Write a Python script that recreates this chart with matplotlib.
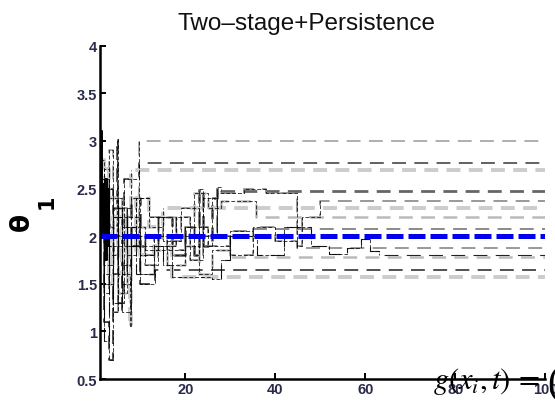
import matplotlib
matplotlib.use("Agg")
import matplotlib.pyplot as plt

# ---------------- data ----------------
title = "Two\u2013stage+Persistence"
x_ticks = [20, 40, 60, 80, 100]
y_ticks = [0.5, 1, 1.5, 2, 2.5, 3, 3.5, 4]
y_tick_labels = ["0.5", "1", "1.5", "2", "2.5", "3", "3.5", "4"]
true_value = 2.0

# piecewise (step) traces of the estimated parameter
s01_x = [1, 2, 3, 4, 5, 6, 8, 9.6, 100]
s01_y = [2.6, 2.2, 2.9, 1.8, 2.4, 2.1, 1.9, 3.0, 3.0]
s02_x = [1, 2, 3, 4, 4.7, 5, 6.3, 9.6, 100]
s02_y = [2.3, 1.5, 2.5, 2.0, 3.02, 1.3, 2.6, 2.77, 2.77]
s03_x = [1, 2, 3, 5, 7, 8, 100]
s03_y = [2.5, 2.0, 2.4, 1.9, 2.3, 2.69, 2.69]
s04_x = [1, 2, 3, 4, 6, 8, 10, 14, 17, 20, 22, 23, 24, 26, 27, 28, 100]
s04_y = [2.6, 2.2, 1.8, 2.3, 2.0, 2.4, 1.9, 2.2, 1.8, 2.1, 1.8, 2.5, 1.9, 2.4, 2.52, 2.47, 2.47]
s05_x = [1, 2, 3, 4, 5, 7, 9, 12, 15, 19, 23, 27, 33, 38, 44.7, 46, 50, 100]
s05_y = [2.4, 1.6, 2.1, 1.2, 2.3, 1.9, 2.4, 2.2, 1.95, 2.3, 2.0, 2.45, 2.5, 2.45, 1.9, 2.2, 2.37, 2.37]
s06_x = [1, 2, 3, 5, 7, 9, 12, 15, 100]
s06_y = [2.3, 2.7, 1.9, 2.2, 1.8, 2.4, 2.1, 2.30, 2.30]
s07_x = [1, 2, 4, 6, 8, 11, 14, 18, 22, 25, 28, 35.6, 100]
s07_y = [2.5, 1.9, 2.3, 1.7, 2.1, 1.85, 2.2, 2.0, 2.45, 2.3, 2.37, 2.2, 2.2]
s08_x = [1, 2, 3, 5, 7, 10, 13, 16, 20, 25, 30, 35, 100]
s08_y = [2.2, 1.4, 2.0, 1.6, 2.2, 1.8, 2.0, 1.85, 2.1, 1.9, 2.05, 2.07, 2.07]
s09_x = [1, 2, 3, 4, 6, 8, 11, 14, 18, 21, 24, 27, 30, 35, 40, 44.7, 100]
s09_y = [2.0, 2.6, 1.7, 2.2, 1.5, 2.0, 1.7, 1.9, 2.2, 1.75, 2.4, 2.0, 1.8, 2.1, 1.95, 1.88, 1.88]
s10_x = [1, 2, 3, 5, 7, 10, 13, 16, 20, 23, 26, 30, 100]
s10_y = [2.3, 1.7, 2.0, 1.4, 1.9, 1.6, 1.85, 1.7, 1.9, 1.6, 1.85, 1.78, 1.78]
s11_x = [1, 2, 3, 4, 5, 6, 8, 10, 13.3, 100]
s11_y = [2.5, 1.1, 0.7, 1.6, 2.0, 1.2, 1.9, 1.5, 1.64, 1.64]
s12_x = [1, 2, 3, 4, 6, 7.7, 8, 10, 13, 17, 100]
s12_y = [2.8, 2.0, 1.5, 2.2, 1.6, 1.05, 2.0, 1.8, 1.9, 1.57, 1.57]
s13_x = [1, 2, 3, 4, 6, 9, 13, 15, 17, 26, 28, 30, 36, 42, 48, 52, 56, 59, 61, 63, 100]
s13_y = [2.4, 0.9, 1.9, 1.3, 2.1, 1.6, 1.9, 1.7, 1.57, 1.55, 1.75, 2.0, 1.8, 2.1, 1.9, 1.81, 1.88, 1.97, 1.84, 1.8, 1.8]
# very first iterations (dense start near the y axis)
s14_x = [1, 1.3, 1.6, 1.9, 2.2, 2.5, 2.8, 3.1]
s14_y = [2.6, 2.0, 2.55, 2.1, 2.6, 1.9, 2.4, 2.3]
s15_x = [1, 1.4, 1.8, 2.2, 2.6, 3.0]
s15_y = [3.1, 2.2, 2.45, 1.75, 2.5, 2.0]

series = [
    (s13_x, s13_y, "#222222", 0.8),
    (s01_x, s01_y, "#999999", 1.1),
    (s02_x, s02_y, "#555555", 1.3),
    (s03_x, s03_y, "#cccccc", 2.8),
    (s04_x, s04_y, "#666666", 2.0),
    (s05_x, s05_y, "#888888", 1.2),
    (s06_x, s06_y, "#cccccc", 2.8),
    (s07_x, s07_y, "#bbbbbb", 1.8),
    (s08_x, s08_y, "#777777", 1.2),
    (s09_x, s09_y, "#888888", 1.2),
    (s10_x, s10_y, "#bbbbbb", 1.8),
    (s11_x, s11_y, "#333333", 1.2),
    (s12_x, s12_y, "#cccccc", 2.8),
]

# ---------------- figure ----------------
plt.rcParams["font.family"] = ["Liberation Sans", "DejaVu Sans"]
plt.rcParams["mathtext.fontset"] = "stix"

fig = plt.figure(figsize=(5.55, 4.06), dpi=100)
ax = fig.add_axes([0.180, 0.064, 0.8027, 0.821])

for xs, ys, c, lw in series:
    ax.plot(xs, ys, drawstyle="steps-post", linestyle=(0, (10 / lw, 6 / lw)), color=c, lw=lw)

# transient parts: thin black dashed
for xs, ys, c, lw in series:
    ax.plot(xs[:-1], ys[:-1], drawstyle="steps-post", linestyle=(0, (4, 2)),
            color="black", lw=0.7, alpha=0.75)

for xs, ys in [(s14_x, s14_y), (s15_x, s15_y)]:
    ax.plot(xs, ys, drawstyle="steps-post", color="black", lw=1.4)

ax.plot([1, 100], [true_value, true_value], color="#0000ee", lw=3.6,
        linestyle=(0, (3.4, 1.0)))

ax.set_xlim(1, 100)
ax.set_ylim(0.5, 4)
ax.set_xticks(x_ticks)
ax.set_yticks(y_ticks)
ax.set_yticklabels(y_tick_labels)
ax.tick_params(direction="in", length=4, width=1.4, labelsize=10.5, colors="black",
               labelcolor="#2a2a4a", pad=2)
for lab in ax.get_xticklabels() + ax.get_yticklabels():
    lab.set_fontweight("bold")
ax.spines["top"].set_visible(False)
ax.spines["right"].set_visible(False)
ax.spines["left"].set_linewidth(1.8)
ax.spines["bottom"].set_linewidth(1.8)

fig.text(0.553, 1 - 30 / 406, title, ha="center", va="baseline", fontsize=17.5,
         color="#111111")
fig.text(22 / 555, 1 - 222 / 406, "\u03b8", rotation=90, ha="center", va="center",
         fontsize=19, family="DejaVu Sans", fontweight="bold")
fig.text(47 / 555, 1 - 202 / 406, "1", rotation=90, ha="center", va="center",
         fontsize=15, family="DejaVu Sans", fontweight="bold")

fig.text(433 / 555, 1 - 389 / 406, r"$g(x_i,t)\,=$", ha="left", va="baseline",
         fontsize=22, color="black")
fig.text(547 / 555, 1 - 394 / 406, "(", ha="left", va="baseline",
         fontsize=28, color="black", family="Liberation Serif")

fig.savefig("out.png", dpi=100)
